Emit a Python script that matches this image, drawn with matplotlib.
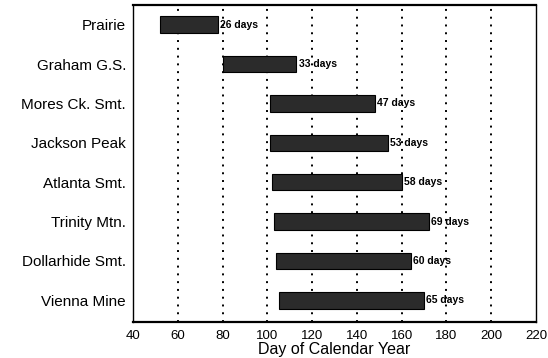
import matplotlib
matplotlib.use("Agg")
import matplotlib.pyplot as plt

sites = ["Prairie", "Graham G.S.", "Mores Ck. Smt.", "Jackson Peak",
         "Atlanta Smt.", "Trinity Mtn.", "Dollarhide Smt.", "Vienna Mine"]
start_day = [52, 80, 101, 101, 102, 103, 104, 105]
end_day = [78, 113, 148, 154, 160, 172, 164, 170]
durations = [26, 33, 47, 53, 58, 69, 60, 65]
xticks = [40, 60, 80, 100, 120, 140, 160, 180, 200, 220]
grid_days = [60, 80, 100, 120, 140, 160, 180, 200]

plt.rcParams['font.family'] = ['Liberation Sans', 'DejaVu Sans']

fig = plt.figure(figsize=(5.48, 3.58), dpi=100)
ax = fig.add_axes([133/548, 1 - 322/358, (536-133)/548, (322-5)/358])

for g in grid_days:
    ax.axvline(g, color='black', linestyle=(0, (1, 3)), linewidth=1.4, zorder=1)

ypos = list(range(len(sites)))
widths = [e - s for s, e in zip(start_day, end_day)]
ax.barh(ypos, widths, left=start_day, height=0.42, color='#2b2b2b',
        edgecolor='black', linewidth=0.8, zorder=2)

for y, e, d in zip(ypos, end_day, durations):
    ax.annotate(f"{d} days", xy=(e, y), xytext=(1.5, 0), textcoords='offset points',
                va='center', ha='left', fontsize=7.5, fontweight='bold', zorder=3)

ax.set_xlim(40, 220)
ax.set_ylim(7.55, -0.5)
ax.set_xticks(xticks)
ax.set_yticks(ypos)
ax.set_yticklabels(sites, fontsize=11)
ax.tick_params(axis='x', labelsize=9.5, length=0, pad=6)
ax.tick_params(axis='y', length=0, pad=5)
ax.set_xlabel("Day of Calendar Year", fontsize=11.5, labelpad=0)

for side in ['top', 'bottom']:
    ax.spines[side].set_linewidth(1.6)
for side in ['left', 'right']:
    ax.spines[side].set_linewidth(1.0)

fig.savefig("out.png", dpi=100)
